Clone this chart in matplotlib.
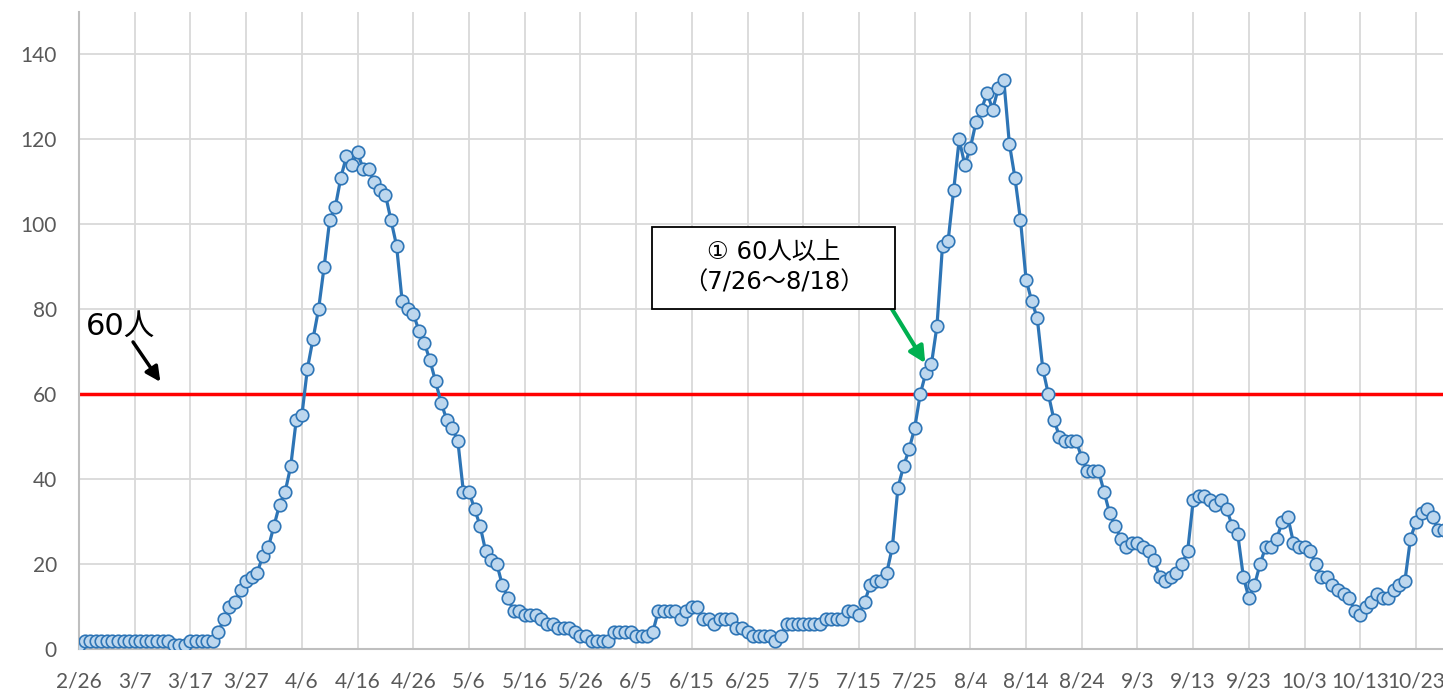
import matplotlib
matplotlib.use("Agg")
import matplotlib.pyplot as plt
from matplotlib.patches import Rectangle

# ---- data (daily values from 2/26, one per day) ----
values = [
    1, 2, 2, 2, 2, 2, 2, 2, 2, 2,
    2, 2, 2, 2, 2, 2, 2, 1, 1, 1,
    2, 2, 2, 2, 2, 4, 7, 10, 11, 14,
    16, 17, 18, 22, 24, 29, 34, 37, 43, 54,
    55, 66, 73, 80, 90, 101, 104, 111, 116, 114,
    117, 113, 113, 110, 108, 107, 101, 95, 82, 80,
    79, 75, 72, 68, 63, 58, 54, 52, 49, 37,
    37, 33, 29, 23, 21, 20, 15, 12, 9, 9,
    8, 8, 8, 7, 6, 6, 5, 5, 5, 4,
    3, 3, 2, 2, 2, 2, 4, 4, 4, 4,
    3, 3, 3, 4, 9, 9, 9, 9, 7, 9,
    10, 10, 7, 7, 6, 7, 7, 7, 5, 5,
    4, 3, 3, 3, 3, 2, 3, 6, 6, 6,
    6, 6, 6, 6, 7, 7, 7, 7, 9, 9,
    8, 11, 15, 16, 16, 18, 24, 38, 43, 47,
    52, 60, 65, 67, 76, 95, 96, 108, 120, 114,
    118, 124, 127, 131, 127, 132, 134, 119, 111, 101,
    87, 82, 78, 66, 60, 54, 50, 49, 49, 49,
    45, 42, 42, 42, 37, 32, 29, 26, 24, 25,
    25, 24, 23, 21, 17, 16, 17, 18, 20, 23,
    35, 36, 36, 35, 34, 35, 33, 29, 27, 17,
    12, 15, 20, 24, 24, 26, 30, 31, 25, 24,
    24, 23, 20, 17, 17, 15, 14, 13, 12, 9,
    8, 10, 11, 13, 12, 12, 14, 15, 16, 26,
    30, 32, 33, 31, 28, 28,
]
day_index = list(range(len(values)))

tick_positions = [0, 10, 20, 30, 40, 50, 60, 70, 80, 90, 100, 110, 120,
                  130, 140, 150, 160, 170, 180, 190, 200, 210, 220, 230, 240]
tick_labels = ["2/26", "3/7", "3/17", "3/27", "4/6", "4/16", "4/26", "5/6",
               "5/16", "5/26", "6/5", "6/15", "6/25", "7/5", "7/15", "7/25",
               "8/4", "8/14", "8/24", "9/3", "9/13", "9/23", "10/3", "10/13",
               "10/23"]
y_ticks = [0, 20, 40, 60, 80, 100, 120, 140]
threshold = 60
threshold_label = "60人"
box_line1 = "① 60人以上"
box_line2 = "（7/26〜8/18）"

# ---- figure ----
W, H = 1443, 694
fig = plt.figure(figsize=(W / 100, H / 100), dpi=100)
ax = fig.add_axes([79 / W, 45 / H, 1 - 79 / W, (649 - 12) / H])

x_max = (W - 79) / 5.571
ax.set_xlim(0, x_max)
ax.set_ylim(0, 150)

grid_c = "#d9d9d9"
ax.set_xticks(tick_positions)
ax.set_xticklabels(tick_labels)
ax.set_yticks(y_ticks)
ax.grid(True, color=grid_c, linewidth=1.3, zorder=0)
ax.set_axisbelow(True)
for s in ["top", "right"]:
    ax.spines[s].set_visible(False)
ax.spines["left"].set_color("#bfbfbf")
ax.spines["bottom"].set_color("#bfbfbf")
ax.spines["left"].set_linewidth(1.5)
ax.spines["bottom"].set_linewidth(1.5)
ax.tick_params(axis="both", length=0, labelsize=15, labelcolor="#595959")
ax.tick_params(axis="x", pad=16)
ax.tick_params(axis="y", pad=16)
for lab in ax.get_xticklabels() + ax.get_yticklabels():
    lab.set_family(["Lato", "DejaVu Sans"])

# threshold line
ax.axhline(threshold, color="#ff0000", linewidth=2.5, zorder=2)

# series
ax.plot(day_index, values, color="#2e75b6", linewidth=2.3,
        marker="o", markersize=9, markerfacecolor="#bdd7ee",
        markeredgecolor="#2e75b6", markeredgewidth=1.2, zorder=3)

jp = ["DejaVu Sans", "Noto Sans CJK JP"]

# "60人" label with black arrow
ax.text(1.26, 73.9, threshold_label, fontsize=22, family=jp,
        ha="left", va="baseline", color="black", zorder=5)
ax.annotate("", xy=(14.6, 62.9), xytext=(9.7, 72.3),
            arrowprops=dict(arrowstyle="-|>", color="black", lw=2.5,
                            mutation_scale=22, shrinkA=0, shrinkB=0),
            zorder=5)

# annotation box
bx0, bx1 = 102.85, 146.47
by0, by1 = 80.1, 99.4
ax.add_patch(Rectangle((bx0, by0), bx1 - bx0, by1 - by0, facecolor="white",
                       edgecolor="black", linewidth=1.3, zorder=6))
cx = (bx0 + bx1) / 2
ax.text(cx, 93.4, box_line1, fontsize=17.5, family=jp, ha="center",
        va="center", color="black", zorder=7)
ax.text(cx, 86.4, box_line2, fontsize=17.5, family=jp, ha="center",
        va="center", color="black", zorder=7)

# green arrow
ax.annotate("", xy=(151.9, 67.3), xytext=(145.9, 80.1),
            arrowprops=dict(arrowstyle="-|>", color="#00b050", lw=3,
                            mutation_scale=24, shrinkA=0, shrinkB=0),
            zorder=5)

fig.savefig("out.png", dpi=100)
